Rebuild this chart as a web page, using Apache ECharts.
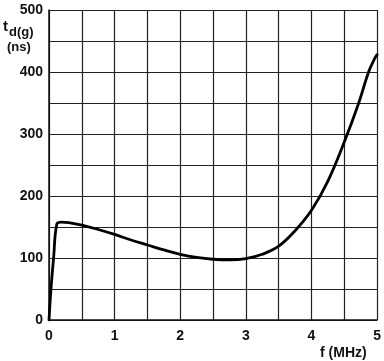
<!DOCTYPE html>
<html>
<head>
<meta charset="utf-8">
<script src="https://cdn.jsdelivr.net/npm/echarts@6/dist/echarts.min.js"></script>
<style>html,body{margin:0;padding:0;background:#fff}#c{width:384px;height:361px}</style>
</head>
<body>
<div id="c"></div>
<script>
var freq = [0, 0.03, 0.07, 0.12, 0.19, 0.3, 0.5, 0.75, 1.0, 1.25, 1.5, 1.75, 2.0, 2.25, 2.5, 2.75, 3.0, 3.25, 3.5, 3.75, 4.0, 4.25, 4.5, 4.72, 4.87, 4.96, 5.0];
var delay = [0, 50, 100, 155, 158, 157, 153, 146, 138, 129, 121, 113, 106, 101, 98, 97, 99, 106, 119, 144, 177, 224, 287, 350, 400, 421, 428];
var xTicks = [0, 1, 2, 3, 4, 5];
var yTicks = [0, 100, 200, 300, 400, 500];

var chart = echarts.init(document.getElementById('c'), null, {renderer: 'canvas'});
var lbl = {color: '#111', fontFamily: 'Liberation Sans, Arial, sans-serif', fontWeight: 'bold', fontSize: 14};
chart.setOption({
  animation: false,
  grid: {left: 49, right: 5, top: 10, bottom: 41},
  xAxis: {
    type: 'value', min: 0, max: 5, interval: 0.5,
    axisLine: {show: true, onZero: false, lineStyle: {color: '#111', width: 1.5}},
    axisTick: {show: false},
    splitLine: {show: true, lineStyle: {color: '#222', width: 1.2}},
    axisLabel: Object.assign({margin: 9, formatter: function (v) { return xTicks.indexOf(v) >= 0 ? String(v) : ''; }}, lbl)
  },
  yAxis: {
    type: 'value', min: 0, max: 500, interval: 50,
    axisLine: {show: true, lineStyle: {color: '#111', width: 1.5}},
    axisTick: {show: false},
    splitLine: {show: true, lineStyle: {color: '#222', width: 1.2}},
    axisLabel: Object.assign({margin: 6, formatter: function (v) { return yTicks.indexOf(v) >= 0 ? String(v) : ''; }}, lbl)
  },
  series: [{
    type: 'line',
    data: freq.map(function (f, i) { return [f, delay[i]]; }),
    smooth: 0.4,
    showSymbol: false,
    lineStyle: {color: '#000', width: 2.8, join: 'round', cap: 'round'}
  }],
  graphic: [
    {type: 'text', left: 3, top: 19, style: {text: 't', fill: '#111', font: 'bold 15px Liberation Sans, Arial, sans-serif'}},
    {type: 'text', left: 9, top: 26, style: {text: 'd(g)', fill: '#111', font: 'bold 13px Liberation Sans, Arial, sans-serif'}},
    {type: 'text', left: 7, top: 41, style: {text: '(ns)', fill: '#111', font: 'bold 13px Liberation Sans, Arial, sans-serif'}},
    {type: 'text', left: 320, top: 346, style: {text: 'f (MHz)', fill: '#111', font: 'bold 14px Liberation Sans, Arial, sans-serif'}}
  ]
});
</script>
</body>
</html>
